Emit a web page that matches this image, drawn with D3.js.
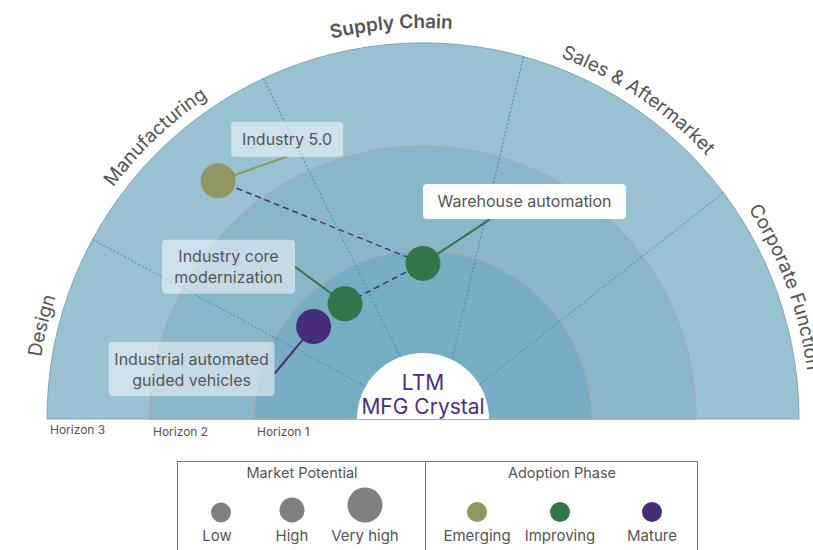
<!DOCTYPE html>
<html>
<head>
<meta charset="utf-8">
<title>LTM MFG Crystal</title>
<script src="https://d3js.org/d3.v7.min.js"></script>
<style>
  body { margin: 0; background: #fff; }
  svg { display: block; font-family: Inter, "Noto Sans", sans-serif; }
</style>
</head>
<body>
<div id="chart"></div>
<script>
// sectors (angles in degrees, 0 = right, 180 = left)
var sectors = ["Design", "Manufacturing", "Supply Chain", "Sales & Aftermarket", "Corporate Function"];
var sectorLabelAngle = [166.2, 133.5, 94.6, 56, 20];
var sectorEdgeOuter = [151.5, 115.1, 74.5, 37];
var sectorEdgeInner = [150.4, 109.8, 64.2, 31.4];

var horizons = ["Horizon 1", "Horizon 2", "Horizon 3"];

// technologies
var techNames = ["Industry 5.0", "Warehouse automation", "Industry core modernization", "Industrial automated guided vehicles"];
var techLines = [["Industry 5.0"], ["Warehouse automation"], ["Industry core", "modernization"], ["Industrial automated", "guided vehicles"]];
var techAngle = [130.7, 90, 124.1, 139.8];
var techHorizon = [2.40, 0.87, 0.71, 0.75];
var techPhase = ["Emerging", "Improving", "Improving", "Mature"];
var techPotential = ["Very high", "Very high", "Very high", "Very high"];

var potentialLevels = ["Low", "High", "Very high"];
var phaseLevels = ["Emerging", "Improving", "Mature"];

// label placement relative to the bubble
var labelLayout = [
  {bx: 69, by: -41.5, bw: 112, ax: 69, ay: -24, fill: 0.5},
  {bx: 101.5, by: -62, bw: 203, ax: 67, ay: -44, fill: 1},
  {bx: -116.5, by: -37, bw: 133, ax: -50, ay: -37, fill: 0.5},
  {bx: -122, by: 42.5, bw: 166, ax: -39, ay: 47, fill: 0.5}
];

var w = 813, h = 550;
var cx = 423, cy = 419;

var rScale = d3.scaleLinear().domain([0, 1, 2, 3]).range([66, 169, 273, 376]);
var aScale = d3.scaleLinear().domain([0, 180]).range([0, Math.PI]);
var sizeScale = d3.scaleOrdinal(potentialLevels, [10, 12.5, 17.5]);
var colorScale = d3.scaleOrdinal(phaseLevels, ["#8f9660", "#34744b", "#472d78"]);
var ringColor = ["#76adc3", "#88b7ca", "#98c2d2"];
var textColor = "#555";

function px(a, r) { return cx + r * Math.cos(aScale(a)); }
function py(a, r) { return cy - r * Math.sin(aScale(a)); }

var svg = d3.select("#chart").append("svg")
  .attr("width", w)
  .attr("height", h);

var g = svg.append("g").attr("transform", "translate(" + cx + "," + cy + ")");

// rings, outer first
var ringArc = d3.arc().innerRadius(0).startAngle(-Math.PI / 2).endAngle(Math.PI / 2);
[3, 2, 1].forEach(function (k) {
  g.append("path")
    .attr("d", ringArc.outerRadius(rScale(k))())
    .style("fill", ringColor[k - 1])
    .style("stroke", k == 3 ? "#7fa6b6" : "#9fadb3")
    .style("stroke-width", k == 3 ? 1 : 1.5);
});

// sector dividers
svg.selectAll(".divider")
  .data(sectorEdgeOuter)
  .enter().append("line")
  .attr("class", "divider")
  .attr("x1", function (d) { return px(d, rScale(3)); })
  .attr("y1", function (d) { return py(d, rScale(3)); })
  .attr("x2", function (d, i) { return px(sectorEdgeInner[i], rScale(0)); })
  .attr("y2", function (d, i) { return py(sectorEdgeInner[i], rScale(0)); })
  .style("stroke", "#3c87c6")
  .style("stroke-width", 1)
  .style("stroke-dasharray", "2,2");

// centre
g.append("path")
  .attr("d", d3.arc().innerRadius(0).outerRadius(rScale(0)).startAngle(-Math.PI / 2).endAngle(Math.PI / 2)())
  .style("fill", "#fff");

g.append("text")
  .attr("y", -29)
  .attr("text-anchor", "middle")
  .style("font-size", "21px")
  .style("fill", "#4b2e83")
  .text("LTM");
g.append("text")
  .attr("y", -5)
  .attr("text-anchor", "middle")
  .style("font-size", "21px")
  .style("fill", "#4b2e83")
  .text("MFG Crystal");

// horizon labels
svg.selectAll(".hlabel")
  .data(horizons)
  .enter().append("text")
  .attr("class", "hlabel")
  .attr("x", function (d, i) { return cx - rScale(i + 1) + 3; })
  .attr("y", function (d, i) { return i == 2 ? 434 : 436; })
  .style("font-size", "12px")
  .style("fill", textColor)
  .text(function (d) { return d; });

// sector labels along the arc
var defs = svg.append("defs");
[387, 391].forEach(function (r, i) {
  defs.append("path")
    .attr("id", "labelArc" + i)
    .attr("d", "M" + (cx - r) + "," + cy + " A" + r + "," + r + " 0 0 1 " + (cx + r) + "," + cy);
});

svg.selectAll(".slabel")
  .data(sectors)
  .enter().append("text")
  .attr("class", "slabel")
  .style("font-size", "19px")
  .style("font-weight", function (d) { return d == "Supply Chain" ? "600" : "400"; })
  .style("fill", textColor)
  .append("textPath")
  .attr("href", function (d) { return d == "Supply Chain" ? "#labelArc1" : "#labelArc0"; })
  .attr("startOffset", function (d, i) { return ((180 - sectorLabelAngle[i]) / 180 * 100) + "%"; })
  .attr("text-anchor", "middle")
  .text(function (d) { return d; });

// points
var points = techNames.map(function (name, i) {
  return {
    name: name,
    lines: techLines[i],
    x: px(techAngle[i], rScale(techHorizon[i])),
    y: py(techAngle[i], rScale(techHorizon[i])),
    r: sizeScale(techPotential[i]),
    color: colorScale(techPhase[i]),
    lay: labelLayout[i]
  };
});

// leader lines
svg.selectAll(".leader")
  .data(points)
  .enter().append("line")
  .attr("x1", function (d) { return d.x; })
  .attr("y1", function (d) { return d.y; })
  .attr("x2", function (d) { return d.x + d.lay.ax; })
  .attr("y2", function (d) { return d.y + d.lay.ay; })
  .style("stroke", function (d) { return d.color; })
  .style("stroke-width", 2);

// trajectory
var pathOrder = [0, 1, 2, 3];
svg.append("path")
  .attr("d", d3.line().x(function (i) { return points[i].x; }).y(function (i) { return points[i].y; })(pathOrder))
  .style("fill", "none")
  .style("stroke", "#4b2e83")
  .style("stroke-width", 1.5)
  .style("stroke-dasharray", "6,4");

// label boxes
var labels = svg.selectAll(".label")
  .data(points)
  .enter().append("g")
  .attr("class", "label")
  .attr("transform", function (d) { return "translate(" + (d.x + d.lay.bx) + "," + (d.y + d.lay.by) + ")"; });

labels.each(function (d) {
  var lg = d3.select(this);
  var n = d.lines.length;
  var bw = d.lay.bw;
  var bh = n == 1 ? 35 : 54;
  lg.append("rect")
    .attr("x", -bw / 2).attr("y", -bh / 2)
    .attr("width", bw).attr("height", bh)
    .attr("rx", 4)
    .style("fill", "#fff")
    .style("fill-opacity", d.lay.fill);
  var t = lg.append("text")
    .attr("text-anchor", "middle")
    .style("font-size", "16px")
    .style("fill", textColor);
  d.lines.forEach(function (line, j) {
    t.append("tspan")
      .attr("x", 0)
      .attr("y", (j - (n - 1) / 2) * 21 + 6)
      .text(line);
  });
});

svg.selectAll(".bubble")
  .data(points)
  .enter().append("circle")
  .attr("cx", function (d) { return d.x; })
  .attr("cy", function (d) { return d.y; })
  .attr("r", function (d) { return d.r; })
  .style("fill", function (d) { return d.color; });

// legend
var legend = svg.append("g");
legend.append("rect")
  .attr("x", 177.5).attr("y", 461.5)
  .attr("width", 520).attr("height", 100)
  .style("fill", "none")
  .style("stroke", "#777")
  .style("stroke-width", 1);
legend.append("line")
  .attr("x1", 425.5).attr("x2", 425.5)
  .attr("y1", 461.5).attr("y2", 550)
  .style("stroke", "#777");

legend.append("text")
  .attr("x", 302).attr("y", 478)
  .attr("text-anchor", "middle")
  .style("font-size", "14.5px")
  .style("fill", textColor)
  .text("Market Potential");
legend.append("text")
  .attr("x", 562).attr("y", 478)
  .attr("text-anchor", "middle")
  .style("font-size", "14.5px")
  .style("fill", textColor)
  .text("Adoption Phase");

var potX = d3.scalePoint().domain(potentialLevels).range([219, 365]);
var potItems = legend.selectAll(".pot")
  .data(potentialLevels)
  .enter().append("g");
potItems.append("circle")
  .attr("cx", function (d) { return potX(d) + (d == "Low" ? 2 : 0); })
  .attr("cy", function (d) { return 522.5 - sizeScale(d); })
  .attr("r", function (d) { return sizeScale(d); })
  .style("fill", "#808083");
potItems.append("text")
  .attr("x", function (d) { return potX(d) - (d == "Low" ? 2 : 0); })
  .attr("y", 541)
  .attr("text-anchor", "middle")
  .style("font-size", "15px")
  .style("fill", textColor)
  .text(function (d) { return d; });

var phaseX = d3.scaleOrdinal(phaseLevels, [477, 560, 652]);
var phaseItems = legend.selectAll(".phase")
  .data(phaseLevels)
  .enter().append("g");
phaseItems.append("circle")
  .attr("cx", function (d) { return phaseX(d); })
  .attr("cy", 512)
  .attr("r", 10)
  .style("fill", function (d) { return colorScale(d); });
phaseItems.append("text")
  .attr("x", function (d) { return phaseX(d); })
  .attr("y", 541)
  .attr("text-anchor", "middle")
  .style("font-size", "15px")
  .style("fill", textColor)
  .text(function (d) { return d; });
</script>
</body>
</html>
